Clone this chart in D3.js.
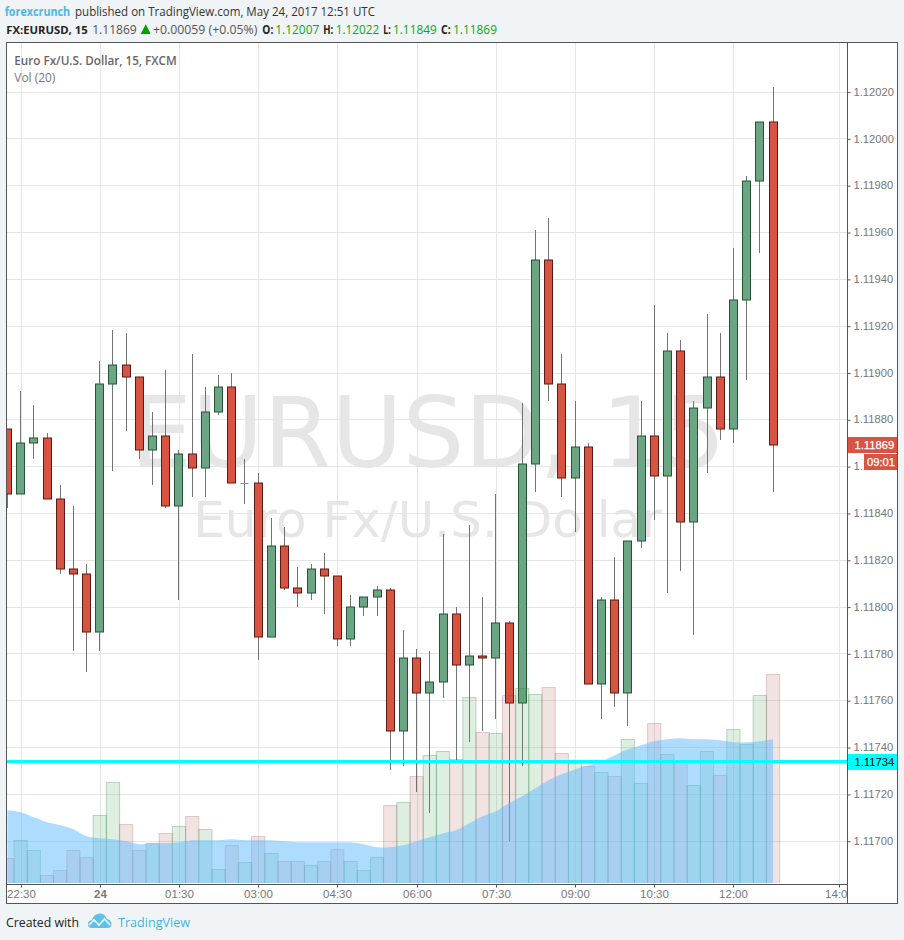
<!DOCTYPE html>
<html><head><meta charset="utf-8">
<script src="https://cdnjs.cloudflare.com/ajax/libs/d3/7.8.5/d3.min.js"></script>
<style>
html,body{margin:0;padding:0;background:#f1f4f7;overflow:hidden}
svg{display:block}
text{font-family:"Liberation Sans",Arial,sans-serif}
.ui{font-family:"Open Sans",sans-serif}
</style></head><body>
<svg id="c" width="904" height="940"></svg>
<script>
const startTime = "2017-05-23T22:15:00Z";
const opens  = [1.11876,1.11848,1.11870,1.11872,1.11846,1.11816,1.11814,1.11789,1.11895,1.11903,1.11898,1.11867,1.11873,1.11843,1.11865,1.11859,1.11883,1.11894,1.11853,1.11853,1.11787,1.11826,1.11808,1.11806,1.11816,1.11813,1.11786,1.11800,1.11804,1.11807,1.11747,1.11778,1.11763,1.11768,1.11797,1.11775,1.11779,1.11778,1.11793,1.11759,1.11861,1.11948,1.11895,1.11855,1.11868,1.11767,1.11803,1.11763,1.11828,1.11873,1.11856,1.11909,1.11836,1.11885,1.11898,1.11876,1.11931,1.11982,1.12007];
const highs  = [1.11876,1.11892,1.11886,1.11874,1.11852,1.11843,1.11818,1.11905,1.11918,1.11917,1.11898,1.11883,1.11901,1.11867,1.11908,1.11894,1.11899,1.11900,1.11863,1.11857,1.11838,1.11834,1.11817,1.11818,1.11823,1.11813,1.11805,1.11804,1.11809,1.11808,1.11790,1.11782,1.11781,1.11831,1.11800,1.11835,1.11804,1.11848,1.11794,1.11887,1.11961,1.11966,1.11908,1.11888,1.11870,1.11804,1.11821,1.11828,1.11888,1.11929,1.11917,1.11914,1.11888,1.11925,1.11917,1.11953,1.11984,1.12007,1.12022];
const lows   = [1.11842,1.11848,1.11863,1.11846,1.11814,1.11781,1.11772,1.11781,1.11858,1.11875,1.11863,1.11852,1.11842,1.11803,1.11847,1.11847,1.11882,1.11853,1.11844,1.11777,1.11787,1.11807,1.11800,1.11803,1.11797,1.11783,1.11783,1.11796,1.11796,1.11730,1.11732,1.11721,1.11712,1.11761,1.11734,1.11742,1.11747,1.11752,1.11700,1.11732,1.11849,1.11888,1.11847,1.11832,1.11767,1.11752,1.11757,1.11749,1.11825,1.11837,1.11806,1.11815,1.11788,1.11857,1.11871,1.11870,1.11897,1.11951,1.11849];
const closes = [1.11848,1.11870,1.11872,1.11846,1.11816,1.11814,1.11789,1.11895,1.11903,1.11898,1.11867,1.11873,1.11843,1.11865,1.11859,1.11883,1.11894,1.11853,1.11853,1.11787,1.11826,1.11808,1.11806,1.11816,1.11813,1.11786,1.11800,1.11804,1.11807,1.11747,1.11778,1.11763,1.11768,1.11797,1.11775,1.11779,1.11778,1.11793,1.11759,1.11861,1.11948,1.11895,1.11855,1.11868,1.11767,1.11803,1.11763,1.11828,1.11873,1.11856,1.11909,1.11836,1.11885,1.11898,1.11876,1.11931,1.11982,1.12007,1.11869];
const volumes = [25,43,33,8,13,33,26,68,101,59,33,40,50,57,67,54,14,38,21,47,30,22,22,18,22,34,22,13,26,78,81,107,128,132,124,186,151,150,188,195,189,196,130,120,117,111,107,144,100,160,129,123,98,132,108,154,139,188,209];
const volMA = [73,71,66,61,58,54,47,45,44,42,39,40,40,41,43,43,43,44,43,43,43,42,41,41,41,41,41,39,36,36,38,42,46,50,53,60,67,72,80,87,95,103,109,114,118,122,128,134,138,142,144,145,144,144,143,141,141,142,144];
const priceTicks = [1.117,1.1172,1.1174,1.1176,1.1178,1.118,1.1182,1.1184,1.1186,1.1188,1.119,1.1192,1.1194,1.1196,1.1198,1.12,1.1202];
const timeTicks = ["2017-05-23T22:30:00Z","2017-05-24T00:00:00Z","2017-05-24T01:30:00Z","2017-05-24T03:00:00Z","2017-05-24T04:30:00Z","2017-05-24T06:00:00Z","2017-05-24T07:30:00Z","2017-05-24T09:00:00Z","2017-05-24T10:30:00Z","2017-05-24T12:00:00Z","2017-05-24T14:00:00Z"];
const timeLabels = ["22:30","24","01:30","03:00","04:30","06:00","07:30","09:00","10:30","12:00","14:00"];
const hLine = 1.11734, lastPrice = 1.11869, countdown = "09:01";

const L=6.5,R=897.5,T=42.5,B=903.5,PR=847.5,PB=884.5;
const svg=d3.select("#c");
const t0=new Date(startTime), MS=15*60000;
const dates=closes.map((_,i)=>new Date(+t0+i*MS));
const x=d3.scaleUtc().domain([t0,new Date(+t0+64*MS)]).range([7.4,7.4+64*13.2]);
const y=d3.scaleLinear().domain([1.117,1.1202]).range([840.7,91.6]);
const yV=d3.scaleLinear().domain([0,209]).range([883.3,674.3]);
const px=v=>Math.round(v)+.5;

svg.append("rect").attr("x",L).attr("y",T).attr("width",R-L).attr("height",B-T).attr("fill","#fff");
const defs=svg.append("defs");
defs.append("clipPath").attr("id","pane").append("rect").attr("x",7).attr("y",43).attr("width",840).attr("height",841);

const pane=svg.append("g").attr("clip-path","url(#pane)");
// grid
pane.append("g").selectAll("line").data(priceTicks).join("line")
 .attr("x1",L).attr("x2",PR).attr("y1",d=>px(y(d))).attr("y2",d=>px(y(d))).attr("stroke","#e6e6e6");
pane.append("g").selectAll("line").data(timeTicks).join("line")
 .attr("x1",d=>px(x(new Date(d)))).attr("x2",d=>px(x(new Date(d)))).attr("y1",T).attr("y2",PB).attr("stroke","#e6e6e6");
// watermark
const wm=pane.append("g").attr("fill","#e6e6e6").attr("text-anchor","middle");
wm.append("text").attr("x",428).attr("y",467).attr("font-size",97.5).style("font-family","'DejaVu Sans'").text("EURUSD, 15");
wm.append("text").attr("x",427.5).attr("y",537).attr("font-size",50).style("font-family","'DejaVu Sans'").text("Euro Fx/U.S. Dollar");
// candles
const cg=pane.append("g");
closes.forEach((c,i)=>{
  const up=c>=opens[i], cx=Math.floor(x(dates[i]))+.5;
  cg.append("line").attr("x1",cx).attr("x2",cx).attr("y1",Math.round(y(highs[i]))).attr("y2",Math.round(y(lows[i]))).attr("stroke","#737375");
  const y1=px(y(Math.max(c,opens[i])))-.5, y2=px(y(Math.min(c,opens[i])))-.5;
  if(y2-y1<1){
    cg.append("line").attr("x1",cx-4).attr("x2",cx+4).attr("y1",y1+.5).attr("y2",y1+.5).attr("stroke","#6ba583");
  } else {
    cg.append("rect").attr("x",cx-4).attr("y",y1).attr("width",8).attr("height",y2-y1)
      .attr("fill",up?"#6ba583":"#d75442").attr("stroke",up?"#225437":"#5b1a13");
  }
});
// volume
pane.append("g").selectAll("rect").data(volumes).join("rect")
 .attr("x",(d,i)=>x(dates[i])-6.6).attr("width",13.2)
 .attr("y",d=>px(yV(d))).attr("height",d=>yV(0)-yV(d)+2)
 .attr("fill",(d,i)=>closes[i]>=opens[i]?"rgba(60,160,80,.17)":"rgba(170,70,70,.15)")
 .attr("stroke",(d,i)=>closes[i]>=opens[i]?"rgba(50,130,70,.3)":"rgba(130,50,50,.22)");
// MA area
const area=d3.area().x((d,i)=>x(dates[i])).y0(yV(0)).y1(d=>yV(d)).curve(d3.curveCatmullRom.alpha(.5));
pane.append("path").datum(volMA).attr("d",area).attr("fill","rgba(93,185,255,.5)");
pane.append("rect").attr("x",7).attr("y",883).attr("width",840).attr("height",1).attr("fill","#fff");
// horizontal line
pane.append("line").attr("x1",L).attr("x2",PR).attr("y1",px(y(hLine))).attr("y2",px(y(hLine))).attr("stroke","#00ffff").attr("stroke-width",3);

// axes
const axisY=d3.axisRight(y).tickValues(priceTicks).tickFormat(d3.format(".5f")).tickSize(3).tickPadding(3);
const gy=svg.append("g").attr("transform",`translate(${PR},0)`).call(axisY);
gy.select(".domain").remove();
gy.selectAll("line").attr("stroke","#555").attr("y1",.5).attr("y2",.5);
gy.selectAll("text").attr("fill","#777").attr("font-size",11.2).style("font-family","'Liberation Sans'");
const axisX=d3.axisBottom(x).tickValues(timeTicks.map(d=>new Date(d))).tickFormat((d,i)=>timeLabels[i]).tickSize(3).tickPadding(2);
defs.append("clipPath").attr("id","timeclip2").append("rect").attr("x",7).attr("y",-1).attr("width",840).attr("height",19);
const gx=svg.append("g").attr("transform",`translate(0,${PB})`).attr("clip-path","url(#timeclip2)").call(axisX);
gx.select(".domain").remove();
gx.selectAll("line").attr("stroke","#555");
gx.selectAll("text").attr("fill","#777").attr("font-size",11.5).style("font-family","'Liberation Sans'").attr("font-weight",(d,i)=>i==1?"bold":"normal");
gx.selectAll(".tick").attr("transform",d=>`translate(${px(x(d))},0)`);

// frame
const f=svg.append("g").attr("stroke","#555").attr("fill","none");
f.append("rect").attr("x",L).attr("y",T).attr("width",R-L).attr("height",B-T);
f.append("line").attr("x1",PR).attr("x2",PR).attr("y1",T).attr("y2",B);
f.append("line").attr("x1",L).attr("x2",PR).attr("y1",PB).attr("y2",PB);

// price labels
function lab(x0,y0,w,h,bg,fg,t,tx,wt){
  svg.append("rect").attr("x",x0).attr("y",y0).attr("width",w).attr("height",h).attr("fill",bg);
  svg.append("text").attr("x",tx).attr("y",y0+h/2+4).attr("fill",fg).attr("font-size",11.2).attr("stroke",wt?fg:"none").attr("stroke-width",wt?.25:0).style("font-family","'Liberation Sans'").text(t);
}
lab(848,754,49,16,"#00ffff","#000",d3.format(".5f")(hLine),854.5);
lab(848,437,49,16,"#d75442","#fff",d3.format(".5f")(lastPrice),854.5,1);
lab(864,454,33,16,"#d75442","#fff",countdown,867,1);

// header
const h=svg.append("g").attr("font-size",12.6);
const T1=(x0,yy,s,fill,w,len)=>h.append("text").attr("x",x0).attr("y",yy).attr("fill",fill).attr("font-weight",w||"normal").attr("class","ui").attr("textLength",len).attr("lengthAdjust","spacingAndGlyphs").text(s);
T1(4.7,16,"forexcrunch","#4cb6e6","bold",65.5).attr("font-size",11.6);
T1(75,16,"published on TradingView.com, May 24, 2017 12:51 UTC","#333","normal",300);
T1(6.2,33.5,"FX:EURUSD, 15","#222","bold",81.5).attr("font-size",11.3);
T1(92.2,33.5,"1.11869","#555","normal",44.5);
h.append("path").attr("d","M140.7 34 L145.7 24.3 L150.7 34 Z").attr("fill","#00a000");
T1(153,33.5,"+0.00059 (+0.05%)","#555","normal",104.3);
T1(262.3,33.5,"O:","#222","bold",11); T1(275.3,33.5,"1.12007","#0da50d","normal",44);
T1(323.3,33.5,"H:","#222","bold",10); T1(335.7,33.5,"1.12022","#0da50d","normal",43.5);
T1(383.3,33.5,"L:","#222","bold",7.5); T1(393,33.5,"1.11849","#0da50d","normal",43.7);
T1(441,33.5,"C:","#222","bold",9.7); T1(453,33.5,"1.11869","#0da50d","normal",44);
T1(14.3,65,"Euro Fx/U.S. Dollar, 15, FXCM","#666","600",162.4);
T1(14.3,82,"Vol (20)","#777","normal",41);
// footer
T1(6,927,"Created with","#222","normal",73);
T1(118,927,"TradingView","#3db4e6","normal",72);
svg.append("path").attr("d","M88 924 Q88 920.5 92 920 Q94 913.5 100 913.5 Q104.5 913.5 106.5 918.5 Q111.5 920 111.5 924 Q111.5 928 107 928 L92 928 Q88 928 88 924 Z").attr("fill","#5dc0e8");
svg.append("path").attr("d","M89 925 L94 920 L99 925 L104.5 919 L110 925").attr("fill","none").attr("stroke","#f1f4f7").attr("stroke-width",1.7);
</script></body></html>
